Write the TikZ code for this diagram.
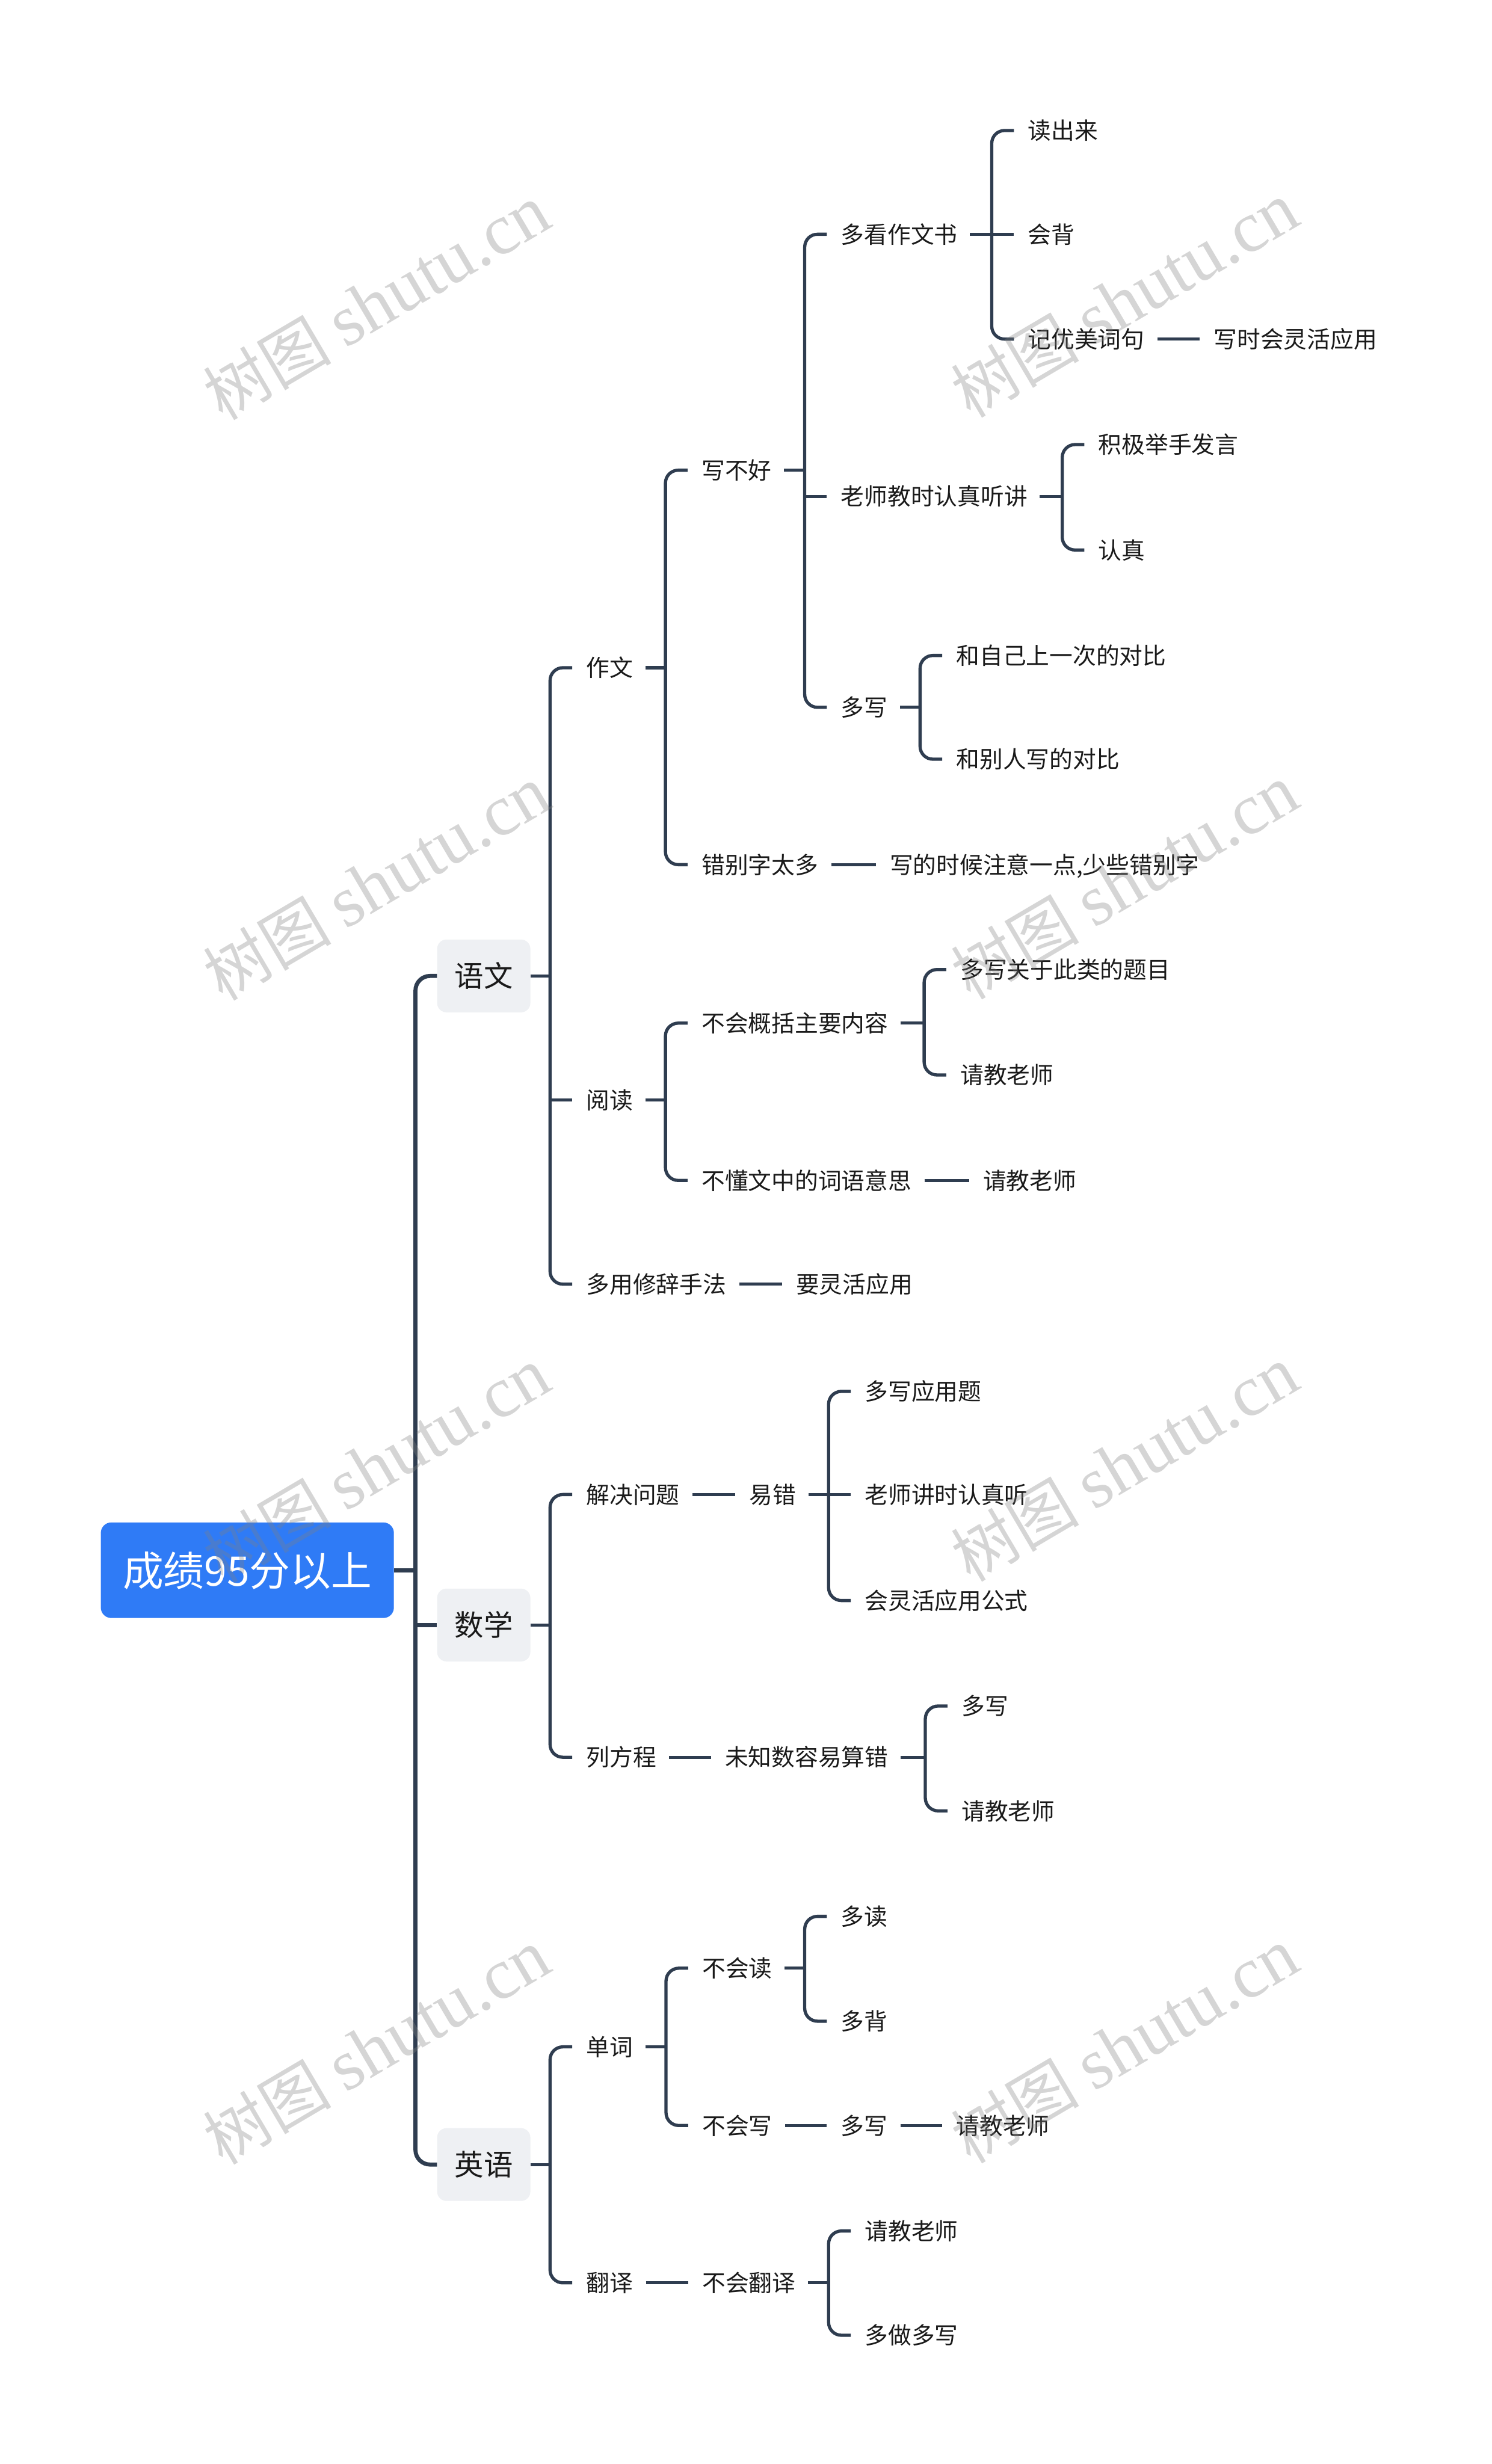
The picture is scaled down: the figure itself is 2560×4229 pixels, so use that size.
\documentclass[tikz,border=0pt]{standalone}
\usepackage{fontspec}
\setmainfont{Noto Sans CJK SC}
\newfontfamily\wmlatin{Liberation Serif}
\definecolor{linec}{HTML}{2F3D50}
\definecolor{rootc}{HTML}{2F7BF6}
\definecolor{boxc}{HTML}{EEF0F3}
\definecolor{txtc}{HTML}{1A1A1A}
\definecolor{wmc}{HTML}{808080}
\tikzset{
  leaf/.style={font=\fontsize{40}{48}\selectfont, text height=35.2pt, text depth=4.8pt, inner sep=0pt, anchor=west, text=txtc},
  subj/.style={font=\fontsize{50}{60}\selectfont, text height=44pt, text depth=6pt, inner sep=0pt, anchor=west, fill=boxc, rounded corners=16pt, minimum width=160pt, minimum height=125pt, text=txtc},
  rootn/.style={font=\fontsize{70}{84}\selectfont, text height=61.6pt, text depth=8.4pt, inner sep=0pt, fill=rootc, rounded corners=18pt, minimum width=503pt, minimum height=164pt, text=white},
  conn/.style={draw=linec, line width=5.5pt},
  trunk/.style={draw=linec, line width=7pt},
  wm/.style={text=wmc, text opacity=0.33, rotate=30.5, inner sep=0pt, font=\fontsize{110}{110}\selectfont}
}
% #1 gap after parent, #2 parent, #3 first child, #4 last child
\newcommand\fork[4][21pt]{%
  \coordinate (bx) at ([xshift=-62pt]#3.west);
  \draw[conn] ([xshift=#1]#2.east) -- (#2.east -| bx);
  \draw[conn, rounded corners=22pt] ([xshift=-24pt]#3.west) -- (#3.west -| bx) -- (#4.west -| bx) -- ([xshift=-24pt]#4.west);
}
\newcommand\midc[1]{\draw[conn] (#1.west -| bx) -- ([xshift=-24pt]#1.west);}
\newcommand\link[2]{\draw[conn] ([xshift=22pt]#1.east) -- ([xshift=-24pt]#2.west);}
\begin{document}
\begin{tikzpicture}[x=1pt,y=-1pt]
\useasboundingbox (0,0) rectangle (2560,4229);
% root and subjects
\node[rootn] (root) at (424.5,2695) {成绩95分以上};
\node[subj] (yw) at (750,1675) {语文};
\node[subj] (sx) at (750,2789) {数学};
\node[subj] (yy) at (750,3715) {英语};
% 语文
\node[leaf] (zw) at (1006,1146) {作文};
\node[leaf] (xbh) at (1204,807) {写不好};
\node[leaf] (dk) at (1443,402) {多看作文书};
\node[leaf] (dcl) at (1764,224) {读出来};
\node[leaf] (hb) at (1764,402) {会背};
\node[leaf] (jy) at (1764,582) {记优美词句};
\node[leaf] (xs) at (2083,582) {写时会灵活应用};
\node[leaf] (ls) at (1443,852) {老师教时认真听讲};
\node[leaf] (jj) at (1885,763) {积极举手发言};
\node[leaf] (rz) at (1885,944) {认真};
\node[leaf] (dx) at (1443,1214) {多写};
\node[leaf] (hz) at (1641,1125) {和自己上一次的对比};
\node[leaf] (hbr) at (1641,1303) {和别人写的对比};
\node[leaf] (cb) at (1204,1484) {错别字太多};
\node[leaf] (xd) at (1527,1484) {写的时候注意一点,少些错别字};
\node[leaf] (yd) at (1006,1888) {阅读};
\node[leaf] (bg) at (1204,1756) {不会概括主要内容};
\node[leaf] (dxg) at (1648,1664) {多写关于此类的题目};
\node[leaf] (qja) at (1648,1845) {请教老师};
\node[leaf] (bd) at (1204,2026) {不懂文中的词语意思};
\node[leaf] (qjb) at (1687,2026) {请教老师};
\node[leaf] (dy) at (1006,2204) {多用修辞手法};
\node[leaf] (yl) at (1366,2204) {要灵活应用};
% 数学
\node[leaf] (jw) at (1006,2565) {解决问题};
\node[leaf] (yc) at (1286,2565) {易错};
\node[leaf] (dxy) at (1484,2388) {多写应用题};
\node[leaf] (lsj) at (1484,2565) {老师讲时认真听};
\node[leaf] (hl) at (1484,2747) {会灵活应用公式};
\node[leaf] (lf) at (1006,3016) {列方程};
\node[leaf] (wz) at (1244,3016) {未知数容易算错};
\node[leaf] (dxb) at (1650,2928) {多写};
\node[leaf] (qjc) at (1650,3108) {请教老师};
% 英语
\node[leaf] (dc) at (1006,3513) {单词};
\node[leaf] (bhd) at (1205,3378) {不会读};
\node[leaf] (dd) at (1443,3289) {多读};
\node[leaf] (dbei) at (1443,3469) {多背};
\node[leaf] (bhx) at (1205,3648) {不会写};
\node[leaf] (dxc) at (1443,3648) {多写};
\node[leaf] (qjd) at (1641,3648) {请教老师};
\node[leaf] (fy) at (1006,3918) {翻译};
\node[leaf] (bhf) at (1205,3918) {不会翻译};
\node[leaf] (qje) at (1484,3829) {请教老师};
\node[leaf] (dz) at (1484,4008) {多做多写};
% trunk
\coordinate (tx) at (713,2695);
\draw[trunk] (root.east) -- (root.east -| tx);
\draw[trunk, rounded corners=25pt] (yw.west) -- (yw.west -| tx) -- (yy.west -| tx) -- (yy.west);
\draw[trunk] (sx.west -| tx) -- (sx.west);
% 语文 connectors
\fork[0pt]{yw}{zw}{dy} \midc{yd}
\fork{zw}{xbh}{cb}
\fork{xbh}{dk}{dx} \midc{ls}
\fork{dk}{dcl}{jy} \midc{hb}
\link{jy}{xs}
\fork{ls}{jj}{rz}
\fork{dx}{hz}{hbr}
\link{cb}{xd}
\fork{yd}{bg}{bd}
\fork{bg}{dxg}{qja}
\link{bd}{qjb}
\link{dy}{yl}
% 数学 connectors
\fork[0pt]{sx}{jw}{lf}
\link{jw}{yc}
\fork{yc}{dxy}{hl} \midc{lsj}
\link{lf}{wz}
\fork{wz}{dxb}{qjc}
% 英语 connectors
\fork[0pt]{yy}{dc}{fy}
\fork{dc}{bhd}{bhx}
\fork{bhd}{dd}{dbei}
\link{bhx}{dxc}
\link{dxc}{qjd}
\link{fy}{bhf}
\fork{bhf}{qje}{dz}
% watermarks
\foreach \wx/\wy in {646/519, 1930/515, 646/1516, 1930/1514, 646/2515, 1930/2513, 646/3513, 1930/3511}{
  \node[wm] (wm\wx\wy) at (\wx,\wy) {树图 {\wmlatin\fontsize{124}{124}\selectfont shutu.cn}};
}
\end{tikzpicture}
\end{document}
